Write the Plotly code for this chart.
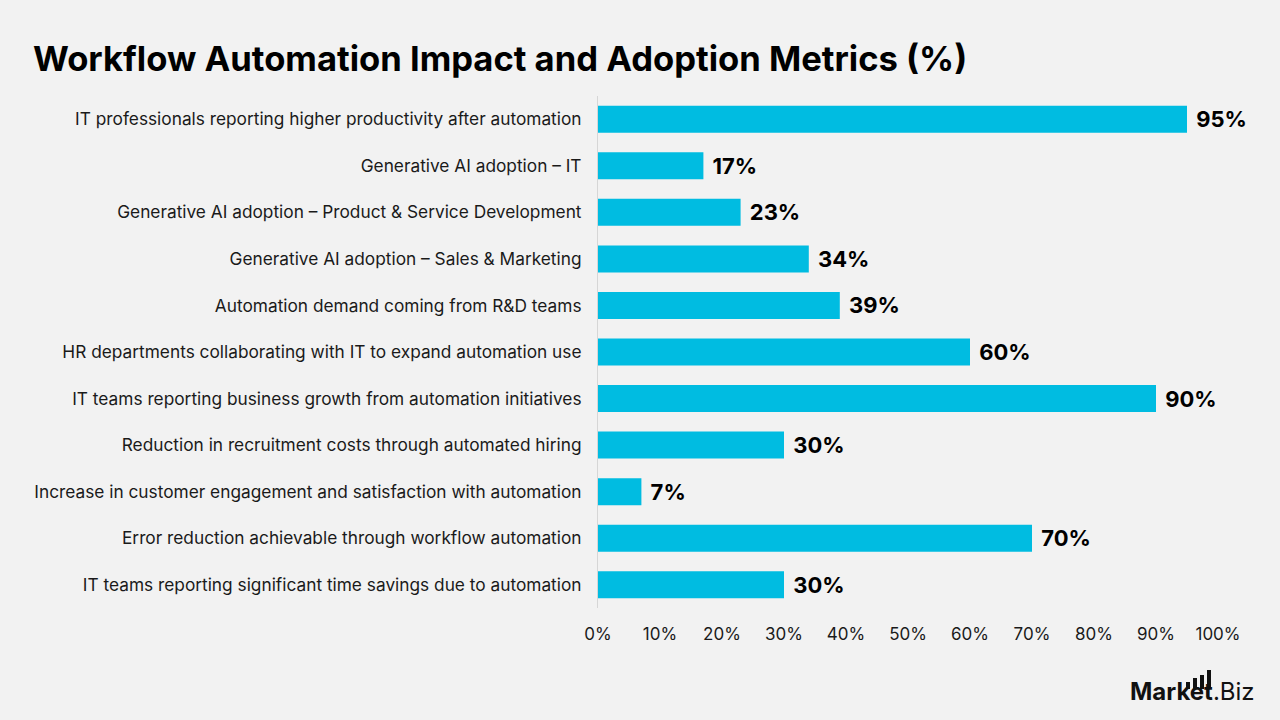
import plotly.graph_objects as go

categories = [
    "IT professionals reporting higher productivity after automation",
    "Generative AI adoption – IT",
    "Generative AI adoption – Product & Service Development",
    "Generative AI adoption – Sales & Marketing",
    "Automation demand coming from R&D teams",
    "HR departments collaborating with IT to expand automation use",
    "IT teams reporting business growth from automation initiatives",
    "Reduction in recruitment costs through automated hiring",
    "Increase in customer engagement and satisfaction with automation",
    "Error reduction achievable through workflow automation",
    "IT teams reporting significant time savings due to automation",
]
values = [95, 17, 23, 34, 39, 60, 90, 30, 7, 70, 30]
tick_vals = [0, 10, 20, 30, 40, 50, 60, 70, 80, 90, 100]
tick_text = [f"{v}%" for v in tick_vals]
title_text = "Workflow Automation Impact and Adoption Metrics (%)"

BAR = "#00BCE1"
BG = "#F2F2F2"
FONT = "Inter"

fig = go.Figure(go.Bar(
    x=values,
    y=categories,
    orientation="h",
    marker=dict(color=BAR, line=dict(width=0)),
    width=0.58,
    text=[f" <b>{v}%</b>" for v in values],
    textposition="outside",
    textfont=dict(family=FONT, size=22, color="#000000"),
    cliponaxis=False,
    hoverinfo="skip",
))

fig.update_layout(
    width=1280, height=720,
    paper_bgcolor=BG, plot_bgcolor=BG,
    margin=dict(l=598, r=62, t=96, b=112),
    showlegend=False,
    font=dict(family=FONT, color="#1a1a1a"),
    annotations=[
        dict(text=f"<b>{title_text}</b>", xref="paper", yref="paper",
             x=-567/620, y=1 + 38/512, xanchor="left", yanchor="middle",
             showarrow=False, font=dict(family=FONT, size=34.6, color="#000000")),
        dict(text="<b>Market</b>.Biz", xref="paper", yref="paper",
             x=1 + 39/620, y=-83/512, xanchor="right", yanchor="middle",
             showarrow=False, font=dict(family=FONT, size=24, color="#111111")),
    ],
)

fig.update_xaxes(
    range=[0, 100],
    tickvals=tick_vals, ticktext=tick_text,
    showgrid=False, zeroline=False, showline=False,
    ticks="", ticklabelstandoff=14,
    tickfont=dict(family=FONT, size=17, color="#1a1a1a"),
)
fig.update_yaxes(
    autorange="reversed",
    showgrid=False, zeroline=False,
    showline=True, linecolor="#D6D6D6", linewidth=1,
    ticks="", ticklabelstandoff=12,
    tickfont=dict(family=FONT, size=17.3, color="#1a1a1a"),
)

# logo bar icon (decorative)
for i, h in enumerate([7, 11, 14, 19]):
    x0 = 1186 + i * 7
    fig.add_shape(type="rect", xref="paper", yref="paper",
                  x0=(x0 - 598) / 620, x1=(x0 + 4 - 598) / 620,
                  y0=(608 - 689) / 512, y1=(608 - 689 + h) / 512,
                  fillcolor="#111111", line=dict(width=0))

fig.write_html("out.html")
